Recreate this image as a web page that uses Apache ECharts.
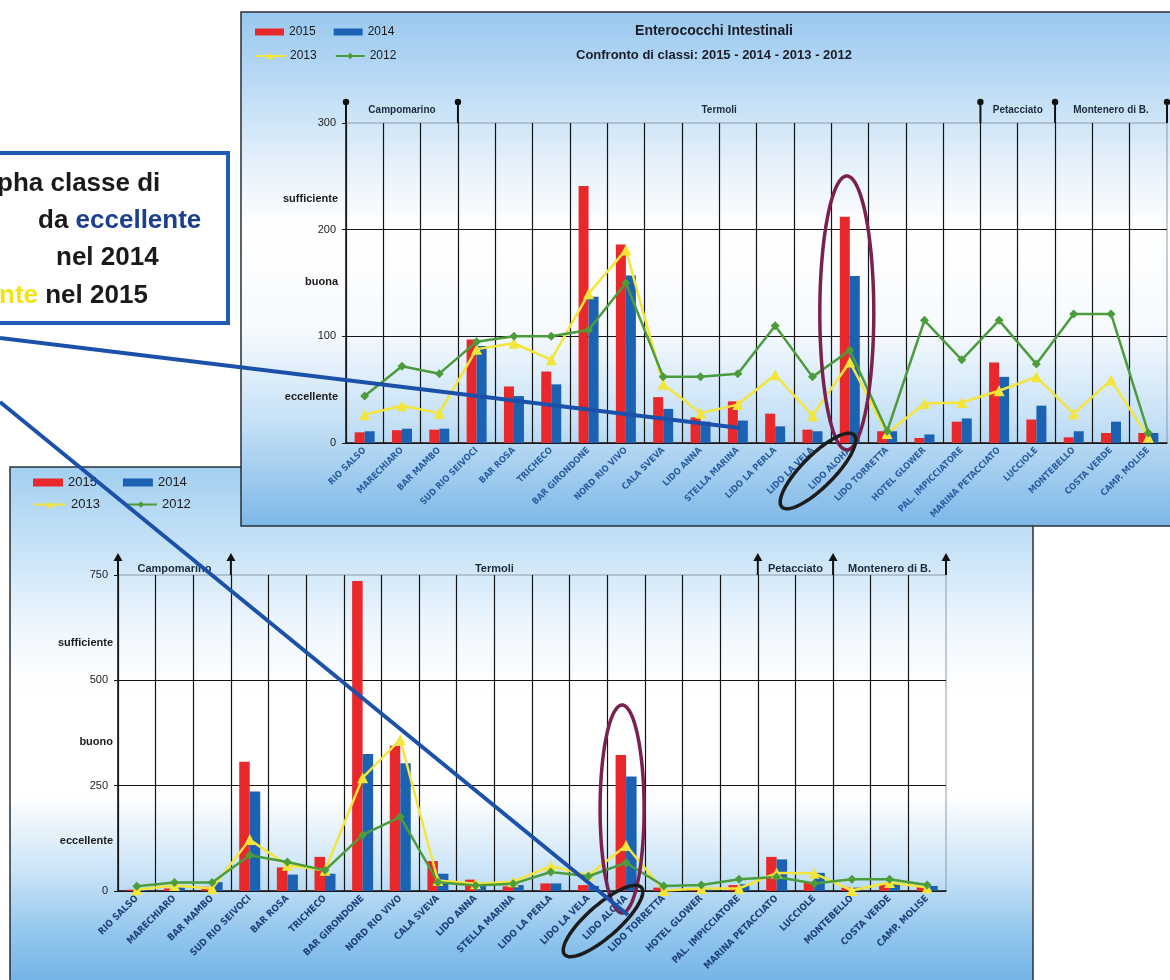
<!DOCTYPE html>
<html>
<head>
<meta charset="utf-8">
<script src="https://cdn.jsdelivr.net/npm/echarts@6/dist/echarts.min.js"></script>
<style>
html, body { margin: 0; padding: 0; background: #fff; }
#grafico { width: 1170px; height: 980px; }
</style>
</head>
<body>
<div id="grafico"></div>
<script>
// Stazioni di campionamento (stesso ordine nei due grafici)
const stazioni = ['RIO SALSO', 'MARECHIARO', 'BAR MAMBO', 'SUD RIO SEIVOCI', 'BAR ROSA', 'TRICHECO',
	'BAR GIRONDONE', 'NORD RIO VIVO', 'CALA SVEVA', 'LIDO ANNA', 'STELLA MARINA', 'LIDO LA PERLA',
	'LIDO LA VELA', 'LIDO ALOHA', 'LIDO TORRETTA', 'HOTEL GLOWER', 'PAL. IMPICCIATORE',
	'MARINA PETACCIATO', 'LUCCIOLE', 'MONTEBELLO', 'COSTA VERDE', 'CAMP. MOLISE'];

// Comuni: confini (in numero di stazioni) e centri delle etichette
const comuni = ['Campomarino', 'Termoli', 'Petacciato', 'Montenero di B.'];
const confiniComuni = [0, 3, 17, 19, 22];
const centriComuni = [1.5, 10, 18, 20.5];

// Grafico in alto: Enterococchi intestinali
const entero2015 = [10, 12, 12.5, 97, 53, 67, 241, 186, 43, 24, 39, 27.5, 12.5, 212, 11, 4.7, 20, 75.5, 22, 5.3, 9.4, 9.4];
const entero2014 = [11, 13.4, 13.4, 91, 44, 55, 137, 157, 32, 20, 21, 15.6, 11, 156.5, 11, 8, 23, 62, 35, 11, 20, 9.4];
const entero2013 = [26.5, 35, 28, 88, 93.5, 78, 140, 181, 55, 28, 36, 64, 25.6, 76, 9, 37, 38, 49, 62, 27.5, 59, 5.3];
const entero2012 = [44, 72, 65, 95, 100, 100, 106, 150, 62, 62, 65, 110, 62, 87, 11, 115, 78, 115, 74, 121, 121, 9.4];
const enteroTick = { max: 300, interval: 100 };
const enteroClassi = ['sufficiente', 'buona', 'eccellente'];
const enteroClassiValori = [229, 151, 43];

// Grafico in basso
const ecoli2015 = [3, 6, 10, 307, 56, 81, 736, 345, 71, 27, 11, 18, 14, 323, 8, 4, 14, 81, 20, 8, 16, 10];
const ecoli2014 = [3, 8, 21, 236, 39, 41, 325, 303, 41, 15, 14, 18, 12, 272, 4, 4, 16, 75, 43, 8, 18, 12];
const ecoli2013 = [3, 13, 6, 122, 61, 49, 269, 359, 25, 17, 22, 59, 37, 108, 1, 6, 6, 43, 42, 1, 20, 8];
const ecoli2012 = [11, 20, 20, 85, 69, 49, 133, 176, 21, 13, 17, 45, 35, 67, 12, 14, 28, 33, 18, 28, 28, 14];
const ecoliTick = { max: 750, interval: 250 };
const ecoliClassi = ['sufficiente', 'buono', 'eccellente'];
const ecoliClassiValori = [589, 354, 119];

const ROSSO = '#e8282b';
const BLU = '#1b62b2';
const GIALLO = '#f3e53a';
const VERDE = '#4c9c3c';
const FONT_NARROW = '"Liberation Sans Narrow", "DejaVu Sans Condensed", "Liberation Sans", sans-serif';

const grafico = echarts.init(document.getElementById('grafico'));

function serie(g, d15, d14, d13, d12, larghezza) {
	const assi = { xAxisIndex: g * 2, yAxisIndex: g * 2 };
	return [
		{ name: '2015', type: 'bar', ...assi, data: d15, barWidth: larghezza, barGap: '0%', itemStyle: { color: ROSSO } },
		{ name: '2014', type: 'bar', ...assi, data: d14, barWidth: larghezza, barGap: '0%', itemStyle: { color: BLU } },
		{ name: '2013', type: 'line', ...assi, data: d13, symbol: 'triangle', symbolSize: 11, z: 4,
			lineStyle: { color: GIALLO, width: 2.5 }, itemStyle: { color: GIALLO } },
		{ name: '2012', type: 'line', ...assi, data: d12, symbol: 'diamond', symbolSize: 9, z: 4,
			lineStyle: { color: VERDE, width: 2.5 }, itemStyle: { color: VERDE } }
	];
}

function assiX(g, fontLabel, coloreLabel, fontComuni, marginComuni) {
	return [
		{
			gridIndex: g, type: 'category', data: stazioni,
			axisLine: { lineStyle: { color: '#1a1a1a', width: 1.5 } },
			axisTick: { length: 4, lineStyle: { color: '#1a1a1a' } },
			axisLabel: { interval: 0, rotate: 45, fontSize: fontLabel, fontWeight: 'bold',
				fontFamily: FONT_NARROW, color: coloreLabel, margin: 6 },
			splitLine: { show: true, showMaxLine: false, lineStyle: { color: '#151515', width: 1.2 } }
		},
		{
			// asse dei comuni, in alto
			gridIndex: g, type: 'value', position: 'top', min: 0, max: 22,
			axisLine: { show: false }, splitLine: { show: false }, axisTick: { show: false },
			axisLabel: { customValues: centriComuni, margin: marginComuni,
				formatter: v => comuni[centriComuni.indexOf(v)] || '',
				fontSize: fontComuni, fontWeight: 'bold', color: '#1b2a3a' }
		}
	];
}

function assiY(g, tick, classi, valoriClassi, marginClassi) {
	return [
		{
			gridIndex: g, type: 'value', min: 0, max: tick.max, interval: tick.interval,
			axisLine: { show: true, lineStyle: { color: '#1a1a1a', width: 1.5 } },
			axisTick: { show: true, length: 4, lineStyle: { color: '#1a1a1a' } },
			axisLabel: { color: '#222', fontSize: 11, margin: 10 },
			splitLine: { show: true, showMaxLine: false, lineStyle: { color: '#151515', width: 1.2 } }
		},
		{
			gridIndex: g, type: 'value', min: 0, max: tick.max, position: 'left', offset: 0,
			axisLine: { show: false }, axisTick: { show: false }, splitLine: { show: false },
			axisLabel: { customValues: valoriClassi, margin: marginClassi,
				formatter: v => classi[valoriClassi.indexOf(v)] || '',
				color: '#1a1a1a', fontSize: 11, fontWeight: 'bold' }
		}
	];
}

const legendaBase = { selectedMode: false };

grafico.setOption({
	animation: false,
	backgroundColor: '#ffffff',
	title: [
		{ text: 'Enterococchi Intestinali', left: 709, top: 19, textAlign: 'center',
			textStyle: { fontSize: 14, fontWeight: 'bold', color: '#1c1c28' } },
		{ text: 'Confronto di classi: 2015 - 2014 - 2013 - 2012', left: 709, top: 44, textAlign: 'center',
			textStyle: { fontSize: 13, fontWeight: 'bold', color: '#1c1c28' } }
	],
	legend: [
		{ ...legendaBase, left: 250, top: 21, data: ['2015', '2014'], icon: 'rect', itemWidth: 29, itemHeight: 7, itemGap: 18,
			textStyle: { fontSize: 12, color: '#1a1a1a' } },
		{ ...legendaBase, left: 250, top: 45, data: ['2013', '2012'], itemWidth: 29, itemHeight: 8, itemGap: 18,
			textStyle: { fontSize: 12, color: '#1a1a1a' } },
		{ ...legendaBase, left: 28, top: 471, data: ['2015', '2014'], icon: 'rect', itemWidth: 30, itemHeight: 8, itemGap: 26,
			textStyle: { fontSize: 13, color: '#1a1a1a' } },
		{ ...legendaBase, left: 28, top: 493, data: ['2013', '2012'], itemWidth: 32, itemHeight: 8, itemGap: 24,
			textStyle: { fontSize: 13, color: '#1a1a1a' } }
	],
	grid: [
		{ left: 346, top: 123, right: 3, bottom: 537, show: true, borderColor: '#8d9aa6', borderWidth: 1, backgroundColor: 'transparent' },
		{ left: 118, top: 575, right: 224, bottom: 89, show: true, borderColor: '#8d9aa6', borderWidth: 1, backgroundColor: 'transparent' }
	],
	xAxis: [
		...assiX(0, 9, '#2a5d9e', 10, 8),
		...assiX(1, 9.5, '#21427c', 11, 1)
	],
	yAxis: [
		...assiY(0, enteroTick, enteroClassi, enteroClassiValori, 8),
		...assiY(1, ecoliTick, ecoliClassi, ecoliClassiValori, 5)
	],
	series: [
		...serie(0, entero2015, entero2014, entero2013, entero2012, 10),
		...serie(1, ecoli2015, ecoli2014, ecoli2013, ecoli2012, 10.5)
	]
});

// --- annotazioni: pannelli, frecce dei comuni, riquadro di testo, linee ed ellissi ---
function ellisse(cx, cy, a, b, ang) {
	const punti = [];
	for (let i = 0; i < 90; i++) {
		const t = i / 90 * Math.PI * 2;
		const x = a * Math.cos(t), y = b * Math.sin(t);
		punti.push([cx + x * Math.cos(ang) - y * Math.sin(ang), cy + x * Math.sin(ang) + y * Math.cos(ang)]);
	}
	return punti;
}

const elementi = [];

// pannelli con sfondo sfumato
elementi.push({
	type: 'rect', z: -20, shape: { x: 10, y: 467, width: 1023, height: 530 },
	style: { stroke: '#2a2f36', lineWidth: 1.5,
		fill: new echarts.graphic.LinearGradient(0, 0, 0, 1, [
			{ offset: 0, color: '#a2cff1' }, { offset: 0.15, color: '#c6e2f7' },
			{ offset: 0.3, color: '#eef6fd' }, { offset: 0.42, color: '#ffffff' },
			{ offset: 0.62, color: '#ffffff' }, { offset: 0.76, color: '#cbe4f7' },
			{ offset: 0.88, color: '#92c6ed' }, { offset: 1, color: '#6aaee6' }
		]) }
});
elementi.push({
	type: 'rect', z: -10, shape: { x: 241, y: 12, width: 945, height: 514 },
	style: { stroke: '#2a2f36', lineWidth: 1.5,
		fill: new echarts.graphic.LinearGradient(0, 0, 0, 1, [
			{ offset: 0, color: '#98c8ef' }, { offset: 0.12, color: '#b6d8f4' },
			{ offset: 0.3, color: '#e6f1fb' }, { offset: 0.42, color: '#ffffff' },
			{ offset: 0.62, color: '#f6fafe' }, { offset: 0.8, color: '#c4e0f6' },
			{ offset: 1, color: '#7cb7e7' }
		]) }
});

// spilli (grafico in alto) e frecce (grafico in basso) dei confini dei comuni
const yTopAlto = grafico.convertToPixel({ yAxisIndex: 0 }, enteroTick.max);
confiniComuni.forEach(v => {
	const x = grafico.convertToPixel({ xAxisIndex: 1 }, v);
	elementi.push({ type: 'line', z: 10, shape: { x1: x, y1: yTopAlto, x2: x, y2: yTopAlto - 21 },
		style: { stroke: '#111', lineWidth: 2 } });
	elementi.push({ type: 'circle', z: 10, shape: { cx: x, cy: yTopAlto - 21, r: 3.2 }, style: { fill: '#111' } });
});
const yTopBasso = grafico.convertToPixel({ yAxisIndex: 2 }, ecoliTick.max);
confiniComuni.forEach(v => {
	const x = grafico.convertToPixel({ xAxisIndex: 3 }, v);
	elementi.push({ type: 'line', z: 10, shape: { x1: x, y1: yTopBasso, x2: x, y2: yTopBasso - 16 },
		style: { stroke: '#111', lineWidth: 2 } });
	elementi.push({ type: 'polygon', z: 10,
		shape: { points: [[x - 4.5, yTopBasso - 14], [x + 4.5, yTopBasso - 14], [x, yTopBasso - 22]] },
		style: { fill: '#111' } });
});

// riquadro di testo
elementi.push({
	type: 'rect', z: 40, shape: { x: -6, y: 153, width: 234, height: 170 },
	style: { fill: '#ffffff', stroke: '#1e5db5', lineWidth: 4 }
});
const stileTesto = { fontSize: 26, fontWeight: 'bold', fontFamily: '"Liberation Sans", Arial, sans-serif', fill: '#1a1a1a', verticalAlign: 'middle' };
elementi.push({ type: 'text', z: 41, style: { ...stileTesto, text: 'pha classe di', x: -3, y: 184 } });
elementi.push({ type: 'text', z: 41, style: { ...stileTesto, x: 38, y: 221,
	text: '{n|da} {b|eccellente}',
	rich: { n: { ...stileTesto }, b: { ...stileTesto, fill: '#1c3f8f' } } } });
elementi.push({ type: 'text', z: 41, style: { ...stileTesto, text: 'nel 2014', x: 56, y: 258 } });
elementi.push({ type: 'text', z: 41, style: { ...stileTesto, x: -1, y: 296,
	text: '{g|nte} {n|nel 2015}',
	rich: { n: { ...stileTesto }, g: { ...stileTesto, fill: '#f2e312' } } } });

// ellissi attorno a LIDO ALOHA
const xAlohaAlto = grafico.convertToPixel({ xAxisIndex: 0 }, 'LIDO ALOHA');
const xAlohaBasso = grafico.convertToPixel({ xAxisIndex: 2 }, 'LIDO ALOHA');
elementi.push({ type: 'polygon', z: 50, shape: { points: ellisse(xAlohaAlto - 3, 313, 27, 137, 0) },
	style: { fill: null, stroke: '#7b2150', lineWidth: 3.5 } });
elementi.push({ type: 'polygon', z: 50, shape: { points: ellisse(xAlohaBasso - 4, 809, 22, 104, 0) },
	style: { fill: null, stroke: '#7b2150', lineWidth: 3.5 } });
elementi.push({ type: 'polygon', z: 50, shape: { points: ellisse(818, 471, 51, 16, -Math.PI / 4) },
	style: { fill: null, stroke: '#1c1c1c', lineWidth: 3.5 } });
elementi.push({ type: 'polygon', z: 50, shape: { points: ellisse(603, 921, 51, 16, -0.72) },
	style: { fill: null, stroke: '#1c1c1c', lineWidth: 3.5 } });

// linee blu dal riquadro
elementi.push({ type: 'line', z: 60, shape: { x1: 0, y1: 338, x2: 740, y2: 428 }, style: { stroke: '#1b51a9', lineWidth: 4 } });
elementi.push({ type: 'line', z: 60, shape: { x1: 0, y1: 402, x2: 628, y2: 915 }, style: { stroke: '#1b51a9', lineWidth: 4 } });

grafico.setOption({ graphic: { elements: elementi } });
</script>
</body>
</html>
